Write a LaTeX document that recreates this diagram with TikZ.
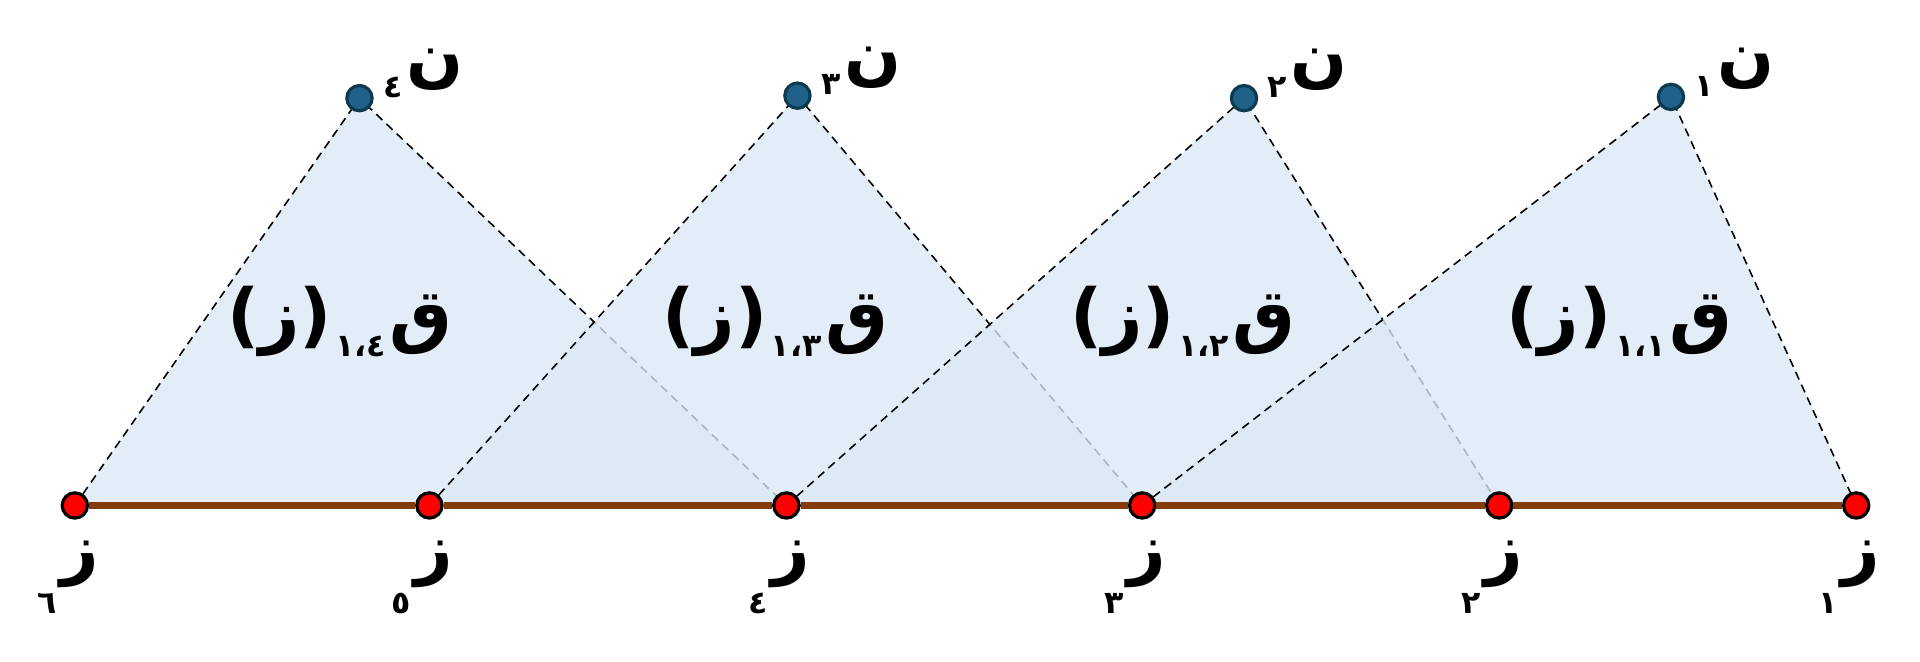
\documentclass[tikz,border=0pt]{standalone}
\usepackage{fontspec}
\TeXXeTstate=1
\newfontfamily\arabicfont[Script=Arabic]{DejaVu Sans}
\usetikzlibrary{positioning}

\definecolor{trifill}{RGB}{219,232,245}
\definecolor{rodbrown}{RGB}{132,60,12}
\definecolor{apexblue}{RGB}{31,97,136}
\definecolor{apexedge}{RGB}{14,58,80}

% lowered index after a letter
\newcommand{\arsub}[2][6pt]{\kern1pt\raisebox{-#1}{\fontsize{9}{11}\selectfont #2}\kern1pt}

\tikzset{
  tri/.style={fill=trifill, fill opacity=0.78, draw=black, dash pattern=on 2.4pt off 1.6pt, line width=0.45pt},
  rod/.style={draw=rodbrown, line width=2pt},
  zpt/.style={circle, fill=red, draw=black, line width=0.9pt, minimum size=7.2pt, inner sep=0pt},
  npt/.style={circle, fill=apexblue, draw=apexedge, line width=0.9pt, minimum size=7.2pt, inner sep=0pt},
  arlbl/.style={font=\arabicfont\bfseries\fontsize{19}{22}\selectfont, inner sep=0pt},
  qlbl/.style={font=\arabicfont\bfseries\fontsize{20}{24}\selectfont, inner sep=0pt}
}

\begin{document}
\begin{tikzpicture}[x=0.0122684cm, y=-0.0122684cm]
\useasboundingbox (0,0) rectangle (1565,539);

% points on the rod and the four tops
\coordinate (Z1) at (1513,412);
\coordinate (Z2) at (1222,412);
\coordinate (Z3) at (931,412);
\coordinate (Z4) at (641,412);
\coordinate (Z5) at (350,412);
\coordinate (Z6) at (61,412);
\coordinate (N1) at (1362,79);
\coordinate (N2) at (1014,80);
\coordinate (N3) at (650,78);
\coordinate (N4) at (293,80);

% the four triangles, the first one on top
\filldraw[tri] (Z6) -- (N4) -- (Z4) -- cycle;
\filldraw[tri] (Z5) -- (N3) -- (Z3) -- cycle;
\filldraw[tri] (Z4) -- (N2) -- (Z2) -- cycle;
\filldraw[tri] (Z3) -- (N1) -- (Z1) -- cycle;

% the points
\foreach \i in {1,...,6} \node[zpt] (z\i) at (Z\i) {};
\foreach \i in {1,...,4} \node[npt] (n\i) at (N\i) {};

% the rod
\draw[rod] (z6) -- (z5) -- (z4) -- (z3) -- (z2) -- (z1);

% labels
\foreach \i/\d in {1/١,2/٢,3/٣,4/٤,5/٥,6/٦}
  \node[arlbl, anchor=north] (lz\i) at ([shift={(-7,28)}]z\i.center) {\beginR ز\arsub[12pt]{\d}\endR};
\foreach \i/\d in {1/١,2/٢,3/٣,4/٤}
  \node[arlbl, anchor=south west] (ln\i) at ([shift={(16,0)}]n\i.center) {\beginR ن\arsub[5pt]{\d}\endR};

\node[qlbl] (q1) at (1320,262) {\beginR ق\arsub[5pt]{١،١}(ز)\endR};
\node[qlbl] (q2) at (964,262) {\beginR ق\arsub[5pt]{١،٢}(ز)\endR};
\node[qlbl] (q3) at (632,262) {\beginR ق\arsub[5pt]{١،٣}(ز)\endR};
\node[qlbl] (q4) at (277,262) {\beginR ق\arsub[5pt]{١،٤}(ز)\endR};
\end{tikzpicture}
\end{document}
